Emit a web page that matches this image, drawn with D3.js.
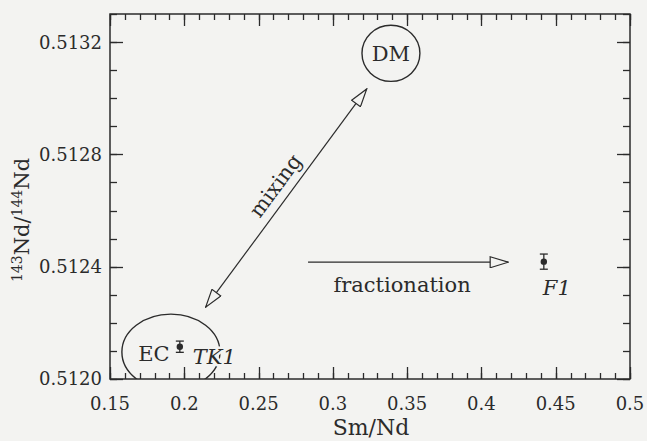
<!DOCTYPE html>
<html>
<head>
<meta charset="utf-8">
<script src="https://cdn.jsdelivr.net/npm/d3@7"></script>
<style>
  html, body { margin: 0; padding: 0; background: #f3f3f1; }
  svg { display: block; }
  text { font-family: "DejaVu Serif", "Liberation Serif", serif; fill: #2b2b2b; }
</style>
</head>
<body>
<svg id="chart"></svg>
<script>
// data
const samples = ['TK1', 'F1']
const smNd = [0.197, 0.442]
const ndRatio = [0.512115, 0.512418]
const ndErr = [0.000020, 0.000027]

const xTickValues = [0.15, 0.2, 0.25, 0.3, 0.35, 0.4, 0.45, 0.5]
const xTickLabels = ['0.15', '0.2', '0.25', '0.3', '0.35', '0.4', '0.45', '0.5']
const yTickValues = [0.5120, 0.5124, 0.5128, 0.5132]
const yTickLabels = ['0.5120', '0.5124', '0.5128', '0.5132']

// reservoirs (ellipses) and arrows, in data units
const fields = [
    { name: 'EC', cx: 0.191, cy: 0.512096, rx: 0.033, ry: 0.000135, lx: 0.1795, ly: 0.512092 },
    { name: 'DM', cx: 0.3391, cy: 0.51316, rx: 0.0195, ry: 0.0001, lx: 0.3391, ly: 0.51316 }
]
const arrows = [
    { name: 'mixing', x1: 0.2144, y1: 0.512256, x2: 0.3228, y2: 0.513033, both: true },
    { name: 'fractionation', x1: 0.2833, y1: 0.512416, x2: 0.418, y2: 0.512416, both: false }
]

const W = 647, H = 441
const margin = { top: 14, right: 17, bottom: 62, left: 110 }
const ink = '#2b2b2b'
const bg = '#f3f3f1'

const svg = d3.select('#chart')
    .attr('width', W)
    .attr('height', H)

const x = d3.scaleLinear().domain([0.15, 0.5]).range([margin.left, W - margin.right])
const y = d3.scaleLinear().domain([0.5120, 0.5133]).range([H - margin.bottom, margin.top])

const xMinor = d3.range(15, 51).map(i => i / 100)
const yMinor = d3.range(0, 14).map(i => 0.5120 + i * 0.0001)

defs()
drawAxes()
drawFields()
drawArrows()
drawPoints()

function defs() {
    const d = svg.append('defs')
    d.append('clipPath').attr('id', 'plot')
        .append('rect')
        .attr('x', x(0.15)).attr('y', y(0.5133))
        .attr('width', x(0.5) - x(0.15)).attr('height', y(0.5120) - y(0.5133))

    for (const id of ['head-end', 'head-start']) {
        d.append('marker')
            .attr('id', id)
            .attr('viewBox', '0 -6 20 12')
            .attr('refX', 19).attr('refY', 0)
            .attr('markerWidth', 20).attr('markerHeight', 12)
            .attr('markerUnits', 'userSpaceOnUse')
            .attr('orient', id == 'head-end' ? 'auto' : 'auto-start-reverse')
            .append('path')
            .attr('d', 'M1,-5.5 L19,0 L1,5.5 Z')
            .attr('fill', bg)
            .attr('stroke', ink)
            .attr('stroke-width', 1.2)
    }
}

// inward ticks on all four sides
function ticks(values, scale, side, len) {
    const bottom = H - margin.bottom, top = margin.top
    const left = margin.left, right = W - margin.right
    const g = svg.append('g')
    const sel = g.selectAll('line').data(values).join('line')
        .attr('stroke', ink).attr('stroke-width', 1.3)
    if (side == 'bottom' || side == 'top') {
        const y0 = side == 'bottom' ? bottom : top
        const dir = side == 'bottom' ? -1 : 1
        sel.attr('x1', d => Math.round(scale(d)) + 0.5).attr('x2', d => Math.round(scale(d)) + 0.5)
            .attr('y1', y0).attr('y2', y0 + dir * len)
    } else {
        const x0 = side == 'left' ? left : right
        const dir = side == 'left' ? 1 : -1
        sel.attr('y1', d => Math.round(scale(d)) + 0.5).attr('y2', d => Math.round(scale(d)) + 0.5)
            .attr('x1', x0).attr('x2', x0 + dir * len)
    }
}

function drawAxes() {
    const bottom = H - margin.bottom, top = margin.top
    const left = margin.left, right = W - margin.right

    ticks(xMinor, x, 'bottom', 6)
    ticks(xMinor, x, 'top', 6)
    ticks(yMinor, y, 'left', 7)
    ticks(yMinor, y, 'right', 7)
    ticks(xTickValues, x, 'bottom', 12)
    ticks(xTickValues, x, 'top', 12)
    ticks(yTickValues, y, 'left', 13)
    ticks(yTickValues, y, 'right', 13)

    svg.append('g').selectAll('text')
        .data(xTickValues)
        .join('text')
        .attr('x', d => x(d))
        .attr('y', bottom + 31)
        .attr('text-anchor', 'middle')
        .style('font-size', '18px')
        .text((d, i) => xTickLabels[i])

    svg.append('g').selectAll('text')
        .data(yTickValues)
        .join('text')
        .attr('x', left - 8)
        .attr('y', d => y(d))
        .attr('dy', '0.36em')
        .attr('text-anchor', 'end')
        .style('font-size', '18px')
        .text((d, i) => yTickLabels[i])

    svg.append('rect')
        .attr('x', left).attr('y', top)
        .attr('width', right - left).attr('height', bottom - top)
        .attr('fill', 'none').attr('stroke', ink).attr('stroke-width', 1.5)

    // axis titles
    svg.append('text')
        .attr('x', 371).attr('y', 435)
        .attr('text-anchor', 'middle')
        .style('font-size', '22px')
        .text('Sm/Nd')

    const yl = svg.append('text')
        .attr('transform', `translate(29,220) rotate(-90)`)
        .attr('text-anchor', 'middle')
        .style('font-size', '21px')
    yl.append('tspan').attr('dy', -7).style('font-size', '14px').text('143')
    yl.append('tspan').attr('dy', 7).text('Nd/')
    yl.append('tspan').attr('dy', -7).style('font-size', '14px').text('144')
    yl.append('tspan').attr('dy', 7).text('Nd')
}

function drawFields() {
    const g = svg.append('g').attr('clip-path', 'url(#plot)')
    g.selectAll('ellipse')
        .data(fields)
        .join('ellipse')
        .attr('cx', d => x(d.cx))
        .attr('cy', d => y(d.cy))
        .attr('rx', d => x(d.cx + d.rx) - x(d.cx))
        .attr('ry', d => y(d.cy) - y(d.cy + d.ry))
        .attr('fill', 'none')
        .attr('stroke', ink)
        .attr('stroke-width', 1.4)

    svg.selectAll('.field-label')
        .data(fields)
        .join('text')
        .attr('class', 'field-label')
        .attr('x', d => x(d.lx))
        .attr('y', d => y(d.ly))
        .attr('dy', '0.35em')
        .attr('text-anchor', 'middle')
        .style('font-size', '21px')
        .text(d => d.name)
}

function drawArrows() {
    svg.selectAll('.arrow')
        .data(arrows)
        .join('line')
        .attr('class', 'arrow')
        .attr('x1', d => x(d.x1)).attr('y1', d => y(d.y1))
        .attr('x2', d => x(d.x2)).attr('y2', d => y(d.y2))
        .attr('stroke', ink)
        .attr('stroke-width', 1.2)
        .attr('marker-end', 'url(#head-end)')
        .attr('marker-start', d => d.both ? 'url(#head-start)' : null)

    // mixing label, along the arrow
    const m = arrows[0]
    const ang = Math.atan2(y(m.y2) - y(m.y1), x(m.x2) - x(m.x1)) * 180 / Math.PI
    const mx = (x(m.x1) + x(m.x2)) / 2 - 5, my = (y(m.y1) + y(m.y2)) / 2 - 8
    svg.append('text')
        .attr('transform', `translate(${mx},${my}) rotate(${ang})`)
        .attr('text-anchor', 'middle')
        .style('font-size', '21px')
        .text(m.name)

    const f = arrows[1]
    svg.append('text')
        .attr('x', (x(f.x1) + x(f.x2)) / 2 - 6)
        .attr('y', y(f.y1) + 30)
        .attr('text-anchor', 'middle')
        .style('font-size', '21px')
        .text(f.name)
}

function drawPoints() {
    const data = samples.map((s, i) => ({ name: s, x: smNd[i], y: ndRatio[i], e: ndErr[i] }))
    const g = svg.selectAll('.pt')
        .data(data)
        .join('g')
        .attr('class', 'pt')

    g.append('line')
        .attr('x1', d => x(d.x)).attr('x2', d => x(d.x))
        .attr('y1', d => y(d.y - d.e)).attr('y2', d => y(d.y + d.e))
        .attr('stroke', ink).attr('stroke-width', 1.3)
    for (const s of [-1, 1]) {
        g.append('line')
            .attr('x1', d => x(d.x) - 4).attr('x2', d => x(d.x) + 4)
            .attr('y1', d => y(d.y + s * d.e)).attr('y2', d => y(d.y + s * d.e))
            .attr('stroke', ink).attr('stroke-width', 1.3)
    }
    g.append('circle')
        .attr('cx', d => x(d.x)).attr('cy', d => y(d.y))
        .attr('r', 3.2)
        .attr('fill', ink)

    // sample names, with a paper-coloured halo so the EC field passes under TK1
    g.append('text')
        .attr('x', d => d.name == 'TK1' ? x(d.x) + 13 : x(d.x) - 1)
        .attr('y', d => d.name == 'TK1' ? y(d.y) + 17 : y(d.y) + 33)
        .style('font-size', '21px')
        .style('font-style', 'italic')
        .attr('stroke', bg)
        .attr('stroke-width', 5)
        .attr('paint-order', 'stroke')
        .text(d => d.name)
}
</script>
</body>
</html>
